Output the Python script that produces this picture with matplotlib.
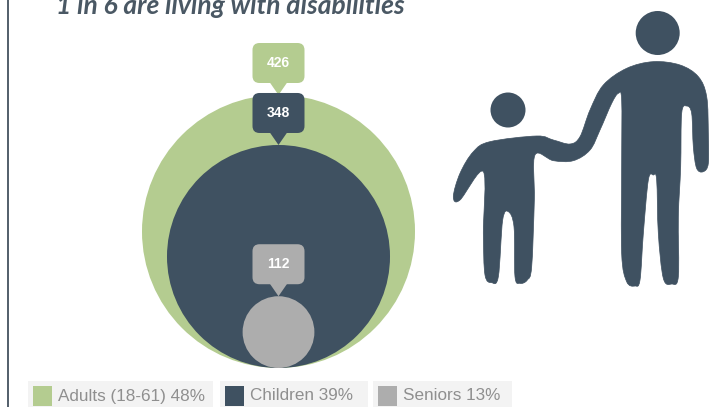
import matplotlib.pyplot as plt
from matplotlib.patches import Circle, FancyBboxPatch, PathPatch, Polygon, Rectangle
from matplotlib.path import Path

groups = ['Adults (18-61)', 'Children', 'Seniors']
counts = [426, 348, 112]
shares = [48, 39, 13]
colors = ['#b4cc90', '#3f5161', '#adadad']
title = '1 in 6 are living with disabilities'

# outline of the two joined figures, clockwise from the adult's shoulder
body_x = [640, 720, 775, 800, 805, 805, 790, 770, 760, 755, 740, 725, 722, 715, 715,
          695, 670, 655, 650, 640, 625, 610, 600, 585, 560, 545, 545, 545, 535, 515,
          480, 450, 400, 340, 285, 283, 275, 262, 240, 225, 222, 205, 188, 175, 155,
          135, 130, 130, 60, 40, 60, 100, 150, 290, 340, 390, 420, 450, 490, 560]
body_y = [185, 195, 230, 290, 400, 490, 515, 505, 440, 340, 318, 340, 500, 650, 830,
          852, 835, 700, 540, 525, 540, 700, 840, 858, 845, 760, 500, 300, 280, 310,
          390, 450, 482, 482, 465, 600, 800, 840, 850, 830, 680, 635, 660, 830, 848,
          825, 700, 515, 600, 590, 520, 455, 425, 408, 420, 432, 410, 330, 255, 205]


def smooth_outline(xs, ys):
    # closed Catmull-Rom curve through the outline points, as cubic beziers
    pts = [(440 + x / 3, y / 3) for x, y in zip(xs, ys)]
    n = len(pts)
    verts = [pts[0]]
    codes = [Path.MOVETO]
    for i in range(n):
        p0, p1, p2, p3 = pts[i - 1], pts[i], pts[(i + 1) % n], pts[(i + 2) % n]
        c1 = (p1[0] + (p2[0] - p0[0]) / 6, p1[1] + (p2[1] - p0[1]) / 6)
        c2 = (p2[0] - (p3[0] - p1[0]) / 6, p2[1] - (p3[1] - p1[1]) / 6)
        verts += [c1, c2, p2]
        codes += [Path.CURVE4, Path.CURVE4, Path.CURVE4]
    return Path(verts, codes)


def tooltip(ax, cx, tip_y, text, color):
    # rounded label with a small pointer resting on the circle's top
    ax.add_patch(FancyBboxPatch((cx - 21, tip_y - 47), 42, 30,
                                boxstyle='round,pad=5,rounding_size=7',
                                fc=color, ec='none', zorder=3))
    ax.add_patch(Polygon([(cx - 9, tip_y - 13), (cx + 9, tip_y - 13), (cx, tip_y)],
                         fc=color, ec='none', zorder=3))
    ax.text(cx, tip_y - 32, text, color='white', fontsize=10, fontweight='bold',
            family='Liberation Sans', ha='center', va='center', zorder=4)


def main():
    fig = plt.figure(figsize=(7.09, 4.07), dpi=100)
    ax = fig.add_axes([0, 0, 1, 1])
    ax.set_xlim(0, 709)
    ax.set_ylim(407, 0)
    ax.axis('off')

    # page rule on the left
    ax.add_patch(Rectangle((7, 0), 2.4, 407, fc='#56626e', ec='none'))

    ax.text(56, 14, title, fontsize=19, fontweight='bold', fontstyle='italic',
            family='Lato', color='#4a5864', ha='left', va='baseline')

    # nested circles, diameter proportional to the count, sharing one baseline
    cx, baseline = 278.5, 368
    px_per_unit = 273 / counts[0]
    for n, c in zip(counts, colors):
        r = n * px_per_unit / 2
        ax.add_patch(Circle((cx, baseline - r), r, fc=c, ec='none', zorder=2))
    for n, c in zip(counts, colors):
        tooltip(ax, cx, baseline - n * px_per_unit, str(n), c)

    # legend strip
    box_x = [28, 220, 373]
    box_w = [185, 148, 139]
    for x, w, c, g, s in zip(box_x, box_w, colors, groups, shares):
        ax.add_patch(Rectangle((x, 381), w, 26, fc='#f3f3f3', ec='none'))
        ax.add_patch(Rectangle((x + 5, 386), 19, 20, fc=c, ec='none', zorder=2))
        ax.text(x + 30, 396, f'{g} {s}%', fontsize=12.3, color='#8f8f8f',
                family='Liberation Sans', ha='left', va='center')

    # parent and child icon
    icon = '#3f5161'
    ax.add_patch(PathPatch(smooth_outline(body_x, body_y), fc=icon, ec=icon, lw=0.5))
    ax.add_patch(Circle((657.7, 33), 22, fc=icon, ec='none'))
    ax.add_patch(Circle((508, 110), 17.5, fc=icon, ec='none'))

    fig.savefig('out.png', dpi=100)


if __name__ == "__main__":
    main()
